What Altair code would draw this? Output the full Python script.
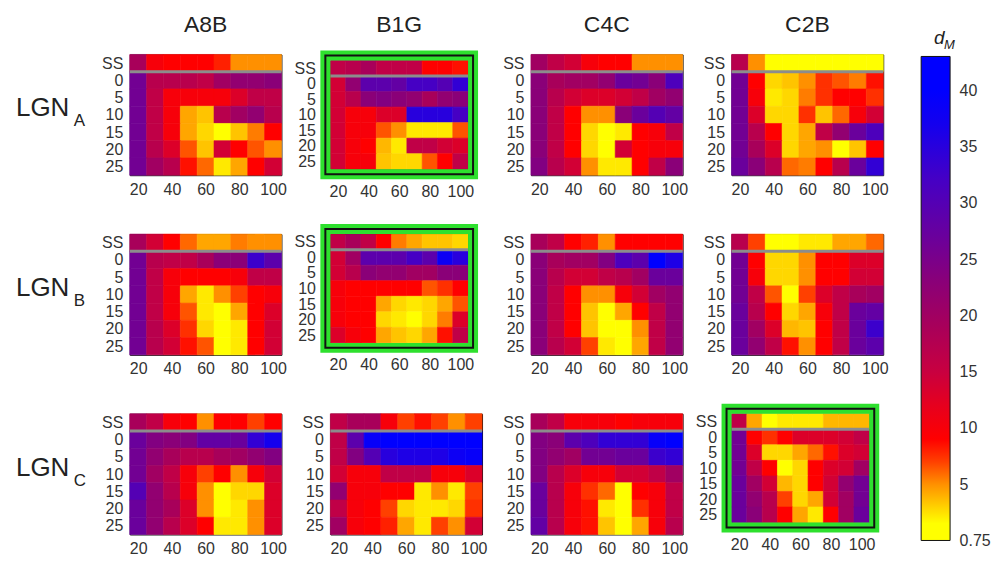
import altair as alt
import pandas as pd

FONT = "Liberation Sans"

# ---------------- data ----------------
COLUMNS = ["A8B", "B1G", "C4C", "C2B"]
LGN_ROWS = ["A", "B", "C"]
ROW_LABELS = ["SS", "0", "5", "10", "15", "20", "25"]
ROW_POS = [-5, 0, 5, 10, 15, 20, 25]
X_VALUES = [20, 30, 40, 50, 60, 70, 80, 90, 100]
X_TICKS = [20, 40, 60, 80, 100]
CB_TICKS = [0, 5, 10, 15, 20, 25, 30, 35, 40]
HIGHLIGHT = [(0, 1), (1, 1), (2, 3)]

# d_M values, rows SS,0,5,...,25 ; columns 20..100
A8B_A = [[19, 10, 9, 9, 9, 8, 5, 5, 5],
         [26, 17, 17, 17, 16, 20, 22, 22, 23],
         [26, 16, 10, 10, 10, 10, 13, 16, 16],
         [26, 16, 10, 4.3, 3.4, 17, 20, 22, 17],
         [26, 16, 10, 4.3, 2.8, 1.2, 3.4, 5.5, 9],
         [26, 17, 13, 6.5, 3.4, 14, 9, 6.5, 5],
         [26, 20, 17, 8.5, 6, 2.2, 4.3, 9, 14]]
B1G_A = [[16, 17, 19, 16, 16, 16, 9, 9, 8.5],
         [14, 22, 29, 29, 28, 32, 32, 30, 34],
         [14, 17, 23, 24, 23, 22, 19, 22, 23],
         [14, 10, 10, 13, 13, 35, 35, 35, 32],
         [14, 10, 10, 6.5, 5, 2.2, 2.2, 2.2, 6.5],
         [14, 10, 9, 3.8, 2.2, 16, 16, 14, 13],
         [14, 10, 10, 3.4, 2.8, 2.8, 6.5, 9, 16]]
C4C_A = [[20, 16, 14, 10, 9, 9, 5, 5, 5],
         [23, 19, 20, 20, 22, 27, 26, 23, 31],
         [23, 17, 14, 13, 13, 14, 16, 20, 22],
         [23, 16, 9, 5, 5, 23, 27, 30, 28],
         [23, 16, 9, 2.8, 1.5, 2.2, 9, 10, 16],
         [23, 16, 9, 2.8, 1.5, 14, 9, 10, 10],
         [24, 17, 14, 5, 2.2, 2.2, 9, 16, 23]]
C2B_A = [[17, 5, 1, 1, 1, 1, 1, 1, 1],
         [26, 9, 2.8, 3.4, 5, 7.5, 6.5, 5.5, 8.5],
         [26, 10, 2.2, 2.8, 5.5, 7.5, 9, 9, 7.5],
         [26, 13, 2.8, 2.8, 7.5, 3.4, 6, 10, 14],
         [26, 17, 9, 2.8, 4.3, 16, 22, 27, 31],
         [26, 19, 13, 2.8, 4.3, 5, 1.5, 3.4, 9],
         [27, 23, 17, 6, 5.5, 9, 17, 27, 34]]
A8B_B = [[19, 14, 9, 6, 4.3, 4.3, 5.5, 5, 5],
         [26, 17, 16, 16, 19, 23, 23, 33, 29],
         [26, 16, 10, 9, 9, 9, 10, 16, 16],
         [26, 16, 10, 4.3, 2.2, 5, 7, 9, 10],
         [26, 16, 10, 6.5, 2.2, 1.5, 4.3, 9, 13],
         [26, 17, 13, 7.5, 2.8, 1.5, 2.2, 9, 14],
         [26, 17, 14, 8.5, 6.5, 1.5, 2.2, 9, 14]]
B1G_B = [[16, 19, 16, 9, 5.5, 4.3, 3.4, 3.4, 2.8],
         [14, 20, 29, 29, 29, 32, 29, 38, 35],
         [14, 17, 23, 22, 22, 20, 20, 23, 23],
         [10, 9, 9, 9, 9, 9, 6.5, 7.5, 9],
         [10, 9, 9, 4.3, 2.8, 2.2, 2.8, 4.3, 6.5],
         [10, 9, 9, 2.8, 2.2, 1.5, 2.8, 5.5, 13],
         [13, 10, 9, 4.3, 3.4, 2.8, 4.3, 8.5, 16]]
C4C_B = [[19, 16, 9, 8, 5, 9, 9, 9, 9],
         [23, 19, 20, 20, 24, 31, 29, 40, 36],
         [23, 17, 14, 14, 16, 17, 20, 27, 27],
         [23, 16, 9, 5, 5, 10, 14, 20, 22],
         [23, 16, 9, 3.4, 1.5, 4.3, 9, 16, 22],
         [23, 16, 9, 3.4, 1.5, 1.5, 5, 16, 22],
         [23, 17, 14, 7, 2.2, 1.5, 4.3, 16, 22]]
C2B_B = [[17, 7, 1, 1.5, 2.2, 2.2, 4.3, 4.3, 6],
         [26, 9, 2.8, 2.8, 5, 9, 9, 13, 13],
         [26, 10, 2.8, 2.8, 5, 9, 9, 14, 14],
         [26, 16, 6.5, 1.5, 7, 13, 16, 19, 20],
         [27, 17, 9, 2.8, 4.3, 10, 16, 27, 28],
         [27, 20, 13, 3.8, 3.4, 9, 16, 27, 33],
         [27, 22, 16, 8.5, 5, 9, 16, 27, 29]]
A8B_C = [[19, 16, 10, 9, 5, 9, 9, 7, 9],
         [27, 24, 23, 24, 28, 28, 27, 34, 37],
         [26, 22, 19, 17, 17, 19, 20, 22, 24],
         [26, 20, 16, 10, 7, 9, 5, 10, 14],
         [30, 22, 17, 10, 5, 1.5, 2.8, 2.8, 13],
         [27, 22, 19, 13, 5, 1.5, 2.2, 5, 13],
         [27, 22, 17, 13, 9, 2.2, 2.2, 5, 13]]
B1G_C = [[16, 19, 19, 10, 7, 8.5, 7, 5, 7],
         [16, 29, 39, 40, 41, 42, 42, 42, 42],
         [16, 24, 30, 35, 36, 36, 36, 38, 39],
         [14, 10, 10, 16, 16, 16, 10, 10, 13],
         [22, 10, 10, 9, 9, 2.2, 5, 2.2, 7],
         [16, 10, 9, 7, 2.8, 2.2, 2.2, 2.8, 7.5],
         [20, 10, 9, 8, 4.3, 2.2, 7, 5, 14]]
C4C_C = [[19, 16, 10, 10, 10, 9, 10, 10, 10],
         [24, 23, 29, 31, 34, 34, 34, 39, 40],
         [24, 22, 20, 26, 26, 27, 27, 33, 34],
         [24, 17, 13, 10, 10, 14, 14, 16, 20],
         [27, 17, 10, 7.5, 6, 1.5, 9, 10, 16],
         [27, 17, 10, 8.5, 2.2, 1.5, 7.5, 10, 16],
         [28, 17, 10, 8.5, 3.4, 1.5, 4.3, 10, 17]]
C2B_C = [[16, 4.3, 1.5, 2.2, 2.2, 2.2, 3.8, 3.8, 3.8],
         [26, 9, 7.5, 9, 13, 13, 13, 14, 16],
         [26, 13, 2.8, 2.8, 4.3, 6, 8.5, 13, 14],
         [26, 16, 9, 1.5, 2.8, 9, 13, 14, 20],
         [27, 20, 14, 3.8, 2.8, 9, 14, 22, 26],
         [27, 22, 17, 7, 2.8, 4.3, 14, 20, 26],
         [27, 23, 17, 9, 4.3, 2.2, 9, 20, 27]]

GRIDS = [[A8B_A, B1G_A, C4C_A, C2B_A],
         [A8B_B, B1G_B, C4C_B, C2B_B],
         [A8B_C, B1G_C, C4C_C, C2B_C]]

# colormap (value stops -> colours), shared by heatmaps and colour bar
CMAP_VALUES = [0, 1.5, 2.8, 4, 5, 7, 9, 12, 15, 19, 23, 27, 32, 37, 40, 43]
CMAP_COLORS = ["#ffff00", "#ffff00", "#ffd700", "#ffb000", "#ff9000", "#ff4000",
               "#ff0000", "#e6001e", "#c80040", "#a8005a", "#8a0078", "#6a009c",
               "#4600c4", "#1400ee", "#0000ff", "#0000ff"]
CB_MAX = 43.0

# ---------------- layout ----------------
W, H = 152, 121          # normal panel
WH, HH = 138, 109        # highlighted panel (inside green frame)
TXT = "#222222"

CSCALE = alt.Scale(domain=CMAP_VALUES, range=CMAP_COLORS, interpolate="rgb")


def cells(grid):
    recs = []
    for ri, yp in enumerate(ROW_POS):
        for ci, xv in enumerate(X_VALUES):
            recs.append({"x0": xv - 5, "x1": xv + 5, "y0": yp - 2.5, "y1": yp + 2.5,
                         "v": grid[ri][ci]})
    return pd.DataFrame(recs)


def text_layer(txt, x, y, size, align="left", style="normal", baseline="middle"):
    return alt.Chart(pd.DataFrame({"t": [txt]})).mark_text(
        align=align, baseline=baseline, fontSize=size, font=FONT, color=TXT,
        fontStyle=style
    ).encode(x=alt.value(x), y=alt.value(y), text="t:N")


XSCALE = alt.Scale(domain=[15, 105], nice=False, zero=False)
YSCALE = alt.Scale(domain=[-7.5, 27.5], reverse=True, nice=False, zero=False)

panels = []
for r in range(3):
    for c in range(4):
        hl = (r, c) in HIGHLIGHT
        w, h = (WH, HH) if hl else (W, H)
        pad = 15 if hl else 7
        yaxis = alt.Axis(values=ROW_POS, title=None, labelPadding=pad,
                         labelOverlap=False,
                         labelExpr="datum.value == -5 ? 'SS' : datum.label")
        heat = alt.Chart(cells(GRIDS[r][c])).mark_rect(strokeWidth=0.6).encode(
            x=alt.X("x0:Q", scale=XSCALE,
                    axis=alt.Axis(values=X_TICKS, title=None, labelPadding=pad - 1,
                                  labelAngle=0, labelOverlap=False)),
            x2="x1:Q",
            y=alt.Y("y0:Q", scale=YSCALE, axis=yaxis),
            y2="y1:Q",
            color=alt.Color("v:Q", scale=CSCALE, legend=None),
            stroke=alt.Stroke("v:Q", scale=CSCALE, legend=None),
        )
        rule = alt.Chart(pd.DataFrame({"b": [-2.5]})).mark_rule(
            color="#8c8c8c", strokeWidth=3
        ).encode(y=alt.Y("b:Q", scale=YSCALE, axis=yaxis),
                 x=alt.value(0), x2=alt.value(w))
        layers = [heat, rule]
        if hl:
            one = pd.DataFrame({"k": [1]})
            green = alt.Chart(one).mark_rect(
                fill="white", fillOpacity=0, stroke="#2ee02e", strokeWidth=10
            ).encode(x=alt.value(-5), x2=alt.value(w + 5),
                     y=alt.value(-5), y2=alt.value(h + 5))
            black = alt.Chart(one).mark_rect(
                fill="white", fillOpacity=0, stroke="#111111", strokeWidth=2
            ).encode(x=alt.value(-5), x2=alt.value(w + 5),
                     y=alt.value(-5), y2=alt.value(h + 5))
            layers += [green, black]
        if r == 0:
            dy = (H - h) / 2
            layers.append(text_layer(COLUMNS[c], w / 2, -23 - dy, 23,
                                     align="center", baseline="alphabetic"))
        if c == 0:
            layers.append(text_layer("LGN", -114, 54, 26))
            layers.append(text_layer(LGN_ROWS[r], -56, 67, 17))
        if r == 0 and c == 3:
            layers.append(text_layer("d", w + 51, -16, 19, style="italic"))
            layers.append(text_layer("M", w + 61, -9, 13, style="italic"))
        inner = alt.layer(*layers)
        if r == 0 and c == 3:
            grad = alt.Gradient(
                gradient="linear",
                stops=[alt.GradientStop(offset=v / CB_MAX, color=col)
                       for v, col in zip(CMAP_VALUES, CMAP_COLORS)],
                x1=0, x2=0, y1=1, y2=0,
            )
            cbar = alt.Chart(pd.DataFrame({"lo": [0.0], "hi": [CB_MAX]})).mark_rect(
                fill=grad, stroke="#111111", strokeWidth=1
            ).encode(
                x=alt.value(w + 38), x2=alt.value(w + 67),
                y=alt.Y("lo:Q",
                        scale=alt.Scale(domain=[0, CB_MAX], range=[487, 2],
                                        nice=False, zero=False),
                        axis=alt.Axis(orient="right", offset=67, values=CB_TICKS,
                                      title=None, labelPadding=9, labelFontSize=16,
                                      labelOverlap=False,
                                      labelExpr="datum.value == 0 ? '0.75' : datum.label")),
                y2="hi:Q",
            )
            inner = alt.layer(inner, cbar).resolve_scale(y="independent")
        panels.append(inner.properties(width=w, height=h))

chart = alt.concat(
    *panels, columns=4, spacing={"row": 59, "column": 49},
    bounds="flush", center=True
).properties(
    padding={"left": 7, "top": 4, "right": 4, "bottom": 0}
).configure_view(
    stroke="#111111", strokeWidth=1
).configure_axis(
    grid=False, ticks=False, domain=False, labelFont=FONT, labelFontSize=16,
    labelColor="#333333"
)

chart.save("out.html", embed_options={"renderer": "svg", "actions": False})
